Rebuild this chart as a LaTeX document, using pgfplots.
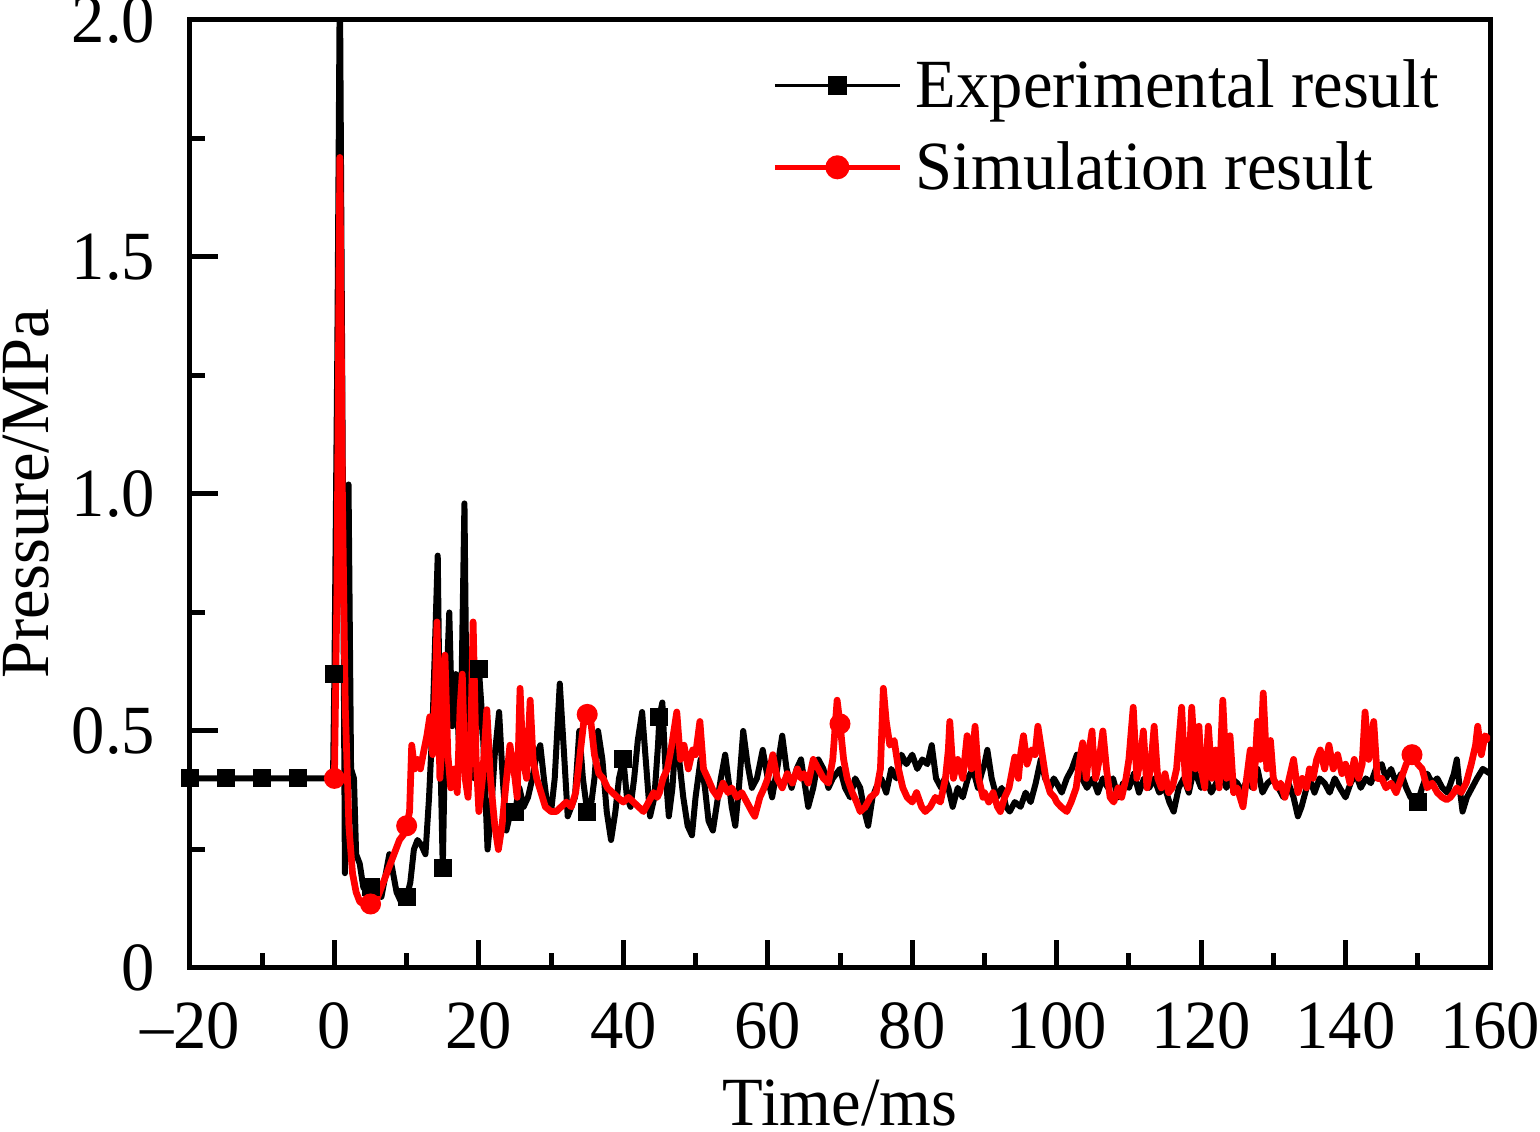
\documentclass[border=0pt]{standalone}
\usepackage{fontspec}
\setmainfont{Liberation Serif}[FakeStretch=0.965]
\usepackage{pgfplots}
\usepackage{pgfplotstable}
\pgfplotsset{compat=1.18}

\pgfplotstableread{
x y
-20 0.40
-15 0.40
-10 0.40
-5 0.40
-0.2 0.40
0 0.62
0.4 1.30
0.75 2.10
1.1 1.20
1.45 0.20
1.75 0.70
1.95 1.02
2.3 0.42
2.7 0.40
3.0 0.24
3.5 0.22
4.0 0.17
4.5 0.16
5.0 0.17
5.5 0.16
6.0 0.17
6.5 0.15
7.0 0.19
7.6 0.24
8.0 0.21
8.6 0.16
9.2 0.14
10.0 0.15
10.5 0.18
11.0 0.25
11.5 0.27
12.0 0.26
12.6 0.24
13.1 0.36
13.6 0.52
14.3 0.87
14.6 0.50
15.0 0.21
15.4 0.55
15.9 0.75
16.3 0.51
16.8 0.62
17.3 0.45
17.6 0.60
18.0 0.98
18.4 0.38
18.9 0.55
19.4 0.40
20.0 0.63
20.5 0.52
21.2 0.25
21.7 0.33
22.2 0.45
22.8 0.54
23.3 0.40
23.8 0.29
24.4 0.33
25.0 0.33
25.6 0.38
26.2 0.34
26.8 0.36
27.4 0.40
28.0 0.45
28.5 0.47
29.0 0.40
29.5 0.34
30.0 0.33
30.5 0.40
31.2 0.60
31.8 0.45
32.3 0.32
32.8 0.34
33.3 0.36
33.9 0.50
34.4 0.40
35.0 0.33
35.5 0.34
36.0 0.40
36.5 0.50
37.1 0.44
37.7 0.33
38.3 0.27
38.9 0.33
39.4 0.40
40.0 0.44
40.5 0.36
41.0 0.34
41.5 0.40
42.0 0.48
42.6 0.54
43.1 0.44
43.7 0.32
44.3 0.36
44.8 0.47
45.0 0.53
45.4 0.56
45.9 0.40
46.3 0.32
46.8 0.38
47.3 0.50
47.8 0.43
48.3 0.36
48.9 0.30
49.5 0.28
50.0 0.36
50.7 0.44
51.3 0.38
51.8 0.31
52.4 0.29
53.0 0.35
53.5 0.40
54.1 0.45
54.7 0.38
55.0 0.34
55.5 0.30
56.0 0.38
56.6 0.50
57.2 0.43
57.8 0.38
58.5 0.40
59.3 0.46
60.0 0.40
60.6 0.36
61.3 0.42
62.0 0.49
62.6 0.42
63.3 0.38
64.0 0.42
64.6 0.44
65.0 0.40
65.6 0.34
66.3 0.38
67.0 0.44
67.7 0.42
68.4 0.38
69.0 0.40
70.0 0.42
70.7 0.38
71.4 0.36
72.1 0.40
72.8 0.38
73.4 0.33
73.9 0.30
74.5 0.36
75.0 0.38
75.7 0.40
76.4 0.37
77.1 0.42
77.8 0.40
78.5 0.45
79.2 0.43
80.0 0.45
80.7 0.42
81.4 0.44
82.1 0.43
82.7 0.47
83.3 0.40
84.0 0.38
84.5 0.40
85.0 0.38
85.6 0.34
86.3 0.38
87.0 0.36
87.7 0.40
88.4 0.42
89.1 0.38
89.6 0.41
90.0 0.43
90.4 0.46
91.0 0.40
91.7 0.36
92.4 0.38
93.0 0.34
93.5 0.33
94.2 0.35
95.0 0.34
95.7 0.37
96.4 0.35
97.1 0.39
97.8 0.44
98.4 0.40
99.1 0.38
99.6 0.40
100.0 0.39
100.7 0.37
101.4 0.40
102.1 0.42
102.8 0.45
103.5 0.40
104.2 0.38
105.0 0.40
105.7 0.37
106.4 0.40
107.1 0.38
107.8 0.40
108.5 0.36
109.2 0.39
110.0 0.38
110.7 0.41
111.4 0.37
112.1 0.40
112.8 0.38
113.5 0.40
114.2 0.37
115.0 0.38
115.6 0.35
116.2 0.33
116.9 0.38
117.6 0.40
118.3 0.37
119.0 0.42
120.0 0.38
120.7 0.40
121.4 0.37
122.1 0.39
122.8 0.41
123.5 0.38
124.2 0.40
125.0 0.39
125.7 0.37
126.4 0.40
127.1 0.38
127.8 0.42
128.5 0.37
129.2 0.39
130.0 0.40
130.7 0.38
131.4 0.36
132.1 0.39
132.8 0.36
133.4 0.32
133.9 0.34
134.6 0.38
135.0 0.40
135.7 0.37
136.4 0.40
137.1 0.39
137.8 0.37
138.5 0.40
139.2 0.38
140.0 0.36
140.7 0.39
141.4 0.41
142.1 0.38
142.8 0.40
143.5 0.39
144.2 0.42
145.0 0.43
145.6 0.40
146.3 0.42
147.0 0.39
147.7 0.41
148.4 0.38
149.0 0.36
150.0 0.35
150.6 0.38
151.3 0.41
152.0 0.39
152.7 0.40
153.4 0.38
154.1 0.37
155.0 0.41
155.4 0.44
155.8 0.38
156.2 0.33
156.8 0.36
157.5 0.38
158.2 0.40
159.0 0.42
160.0 0.41
}\expdata

\pgfplotstableread{
x y
0 0.40
0.35 0.80
0.75 1.71
1.1 1.00
1.5 0.55
2.0 0.30
2.5 0.20
3.0 0.16
3.5 0.14
4.0 0.135
4.5 0.13
5.0 0.135
5.5 0.14
6.0 0.15
6.5 0.17
7.0 0.19
7.5 0.21
8.0 0.23
8.5 0.25
9.0 0.27
9.5 0.28
10.0 0.30
10.4 0.33
10.7 0.47
11.1 0.42
11.5 0.44
11.9 0.42
12.4 0.46
12.8 0.49
13.2 0.53
13.6 0.45
14.0 0.60
14.2 0.73
14.6 0.40
15.0 0.50
15.3 0.66
15.7 0.45
16.1 0.38
16.6 0.42
17.0 0.37
17.4 0.55
17.7 0.62
18.1 0.40
18.5 0.36
18.9 0.50
19.2 0.73
19.6 0.45
20.0 0.33
20.5 0.40
21.1 0.545
21.6 0.40
22.2 0.30
22.7 0.25
23.2 0.30
23.7 0.38
24.3 0.47
25.0 0.40
25.3 0.36
25.7 0.59
26.1 0.44
26.6 0.40
27.1 0.565
27.5 0.44
28.0 0.40
28.6 0.37
29.2 0.34
30.0 0.33
30.7 0.33
31.4 0.34
32.1 0.35
32.8 0.34
33.4 0.37
34.0 0.45
34.6 0.53
35.0 0.535
35.5 0.52
36.0 0.45
36.6 0.41
37.2 0.40
37.8 0.38
38.5 0.37
39.2 0.36
40.0 0.35
40.7 0.36
41.4 0.35
42.1 0.34
42.8 0.33
43.5 0.35
44.2 0.37
44.7 0.36
45.0 0.37
45.5 0.40
46.1 0.42
46.7 0.47
47.4 0.54
47.9 0.44
48.4 0.47
49.0 0.42
49.6 0.46
50.0 0.45
50.6 0.52
51.1 0.42
51.7 0.40
52.4 0.375
53.1 0.36
53.8 0.39
54.5 0.37
55.0 0.38
55.7 0.36
56.4 0.37
57.1 0.35
57.8 0.33
58.2 0.32
58.9 0.36
59.5 0.38
60.0 0.40
60.7 0.45
61.3 0.40
62.0 0.38
62.7 0.41
63.4 0.39
64.1 0.42
64.6 0.40
65.0 0.41
65.6 0.39
66.3 0.44
67.0 0.42
67.7 0.40
68.4 0.39
69.0 0.44
69.6 0.565
70.0 0.515
70.5 0.44
71.0 0.40
71.7 0.37
72.3 0.35
72.8 0.33
73.5 0.34
74.2 0.36
75.0 0.37
75.6 0.42
76.0 0.59
76.4 0.52
76.9 0.47
77.5 0.48
78.1 0.42
78.7 0.38
79.3 0.36
80.0 0.35
80.6 0.37
81.3 0.34
81.8 0.33
82.5 0.34
83.2 0.36
83.9 0.35
84.6 0.40
85.0 0.46
85.2 0.52
85.7 0.40
86.3 0.44
87.0 0.40
87.6 0.49
88.2 0.42
88.7 0.51
89.2 0.40
89.8 0.36
90.0 0.37
90.6 0.35
91.2 0.37
91.8 0.34
92.2 0.33
92.8 0.36
93.4 0.38
94.2 0.445
94.7 0.40
95.0 0.45
95.4 0.49
95.9 0.43
96.5 0.46
97.0 0.45
97.4 0.51
97.9 0.46
98.5 0.40
99.1 0.37
99.7 0.36
100.0 0.35
100.6 0.34
101.4 0.33
102.0 0.35
102.7 0.38
103.2 0.44
103.6 0.475
104.1 0.40
104.5 0.46
104.9 0.50
105.0 0.47
105.4 0.40
105.9 0.44
106.4 0.50
106.9 0.42
107.4 0.36
107.9 0.35
108.5 0.38
109.0 0.36
109.6 0.40
110.0 0.44
110.6 0.55
111.1 0.40
111.6 0.44
112.0 0.50
112.5 0.38
113.0 0.42
113.5 0.51
114.0 0.40
114.5 0.38
115.0 0.41
115.5 0.37
116.0 0.38
116.6 0.42
117.3 0.55
117.8 0.40
118.2 0.38
118.7 0.55
119.2 0.42
119.7 0.51
120.0 0.42
120.5 0.38
121.0 0.51
121.5 0.40
122.0 0.46
122.5 0.38
123.0 0.565
123.5 0.40
124.0 0.49
124.5 0.37
125.0 0.38
125.4 0.36
125.8 0.34
126.3 0.40
126.8 0.46
127.3 0.38
127.8 0.52
128.2 0.44
128.6 0.58
129.1 0.42
129.6 0.48
130.0 0.40
130.5 0.38
131.0 0.39
131.6 0.36
132.2 0.40
132.8 0.44
133.4 0.37
134.0 0.40
134.6 0.38
135.0 0.42
135.5 0.40
136.0 0.44
136.5 0.46
137.1 0.42
137.7 0.47
138.3 0.42
138.9 0.45
139.5 0.41
140.0 0.43
140.6 0.39
141.2 0.44
141.8 0.40
142.3 0.43
142.7 0.54
143.2 0.44
143.9 0.52
144.4 0.40
145.0 0.40
145.6 0.38
146.3 0.39
147.0 0.37
147.7 0.40
148.4 0.43
149.2 0.45
150.0 0.43
150.6 0.42
151.3 0.38
152.0 0.39
152.7 0.37
153.4 0.36
154.0 0.355
154.5 0.36
155.0 0.37
155.4 0.38
156.0 0.37
156.7 0.39
157.4 0.43
158.0 0.47
158.3 0.51
158.8 0.45
159.3 0.49
160.0 0.48
}\simdata

\pgfplotstableread{
x y
-20 0.40
-15 0.40
-10 0.40
-5 0.40
0 0.62
5 0.17
10 0.15
15 0.21
20 0.63
25 0.33
35 0.33
40 0.44
45 0.53
150 0.35
}\expmarks

\pgfplotstableread{
x y
0 0.40
5 0.135
10 0.30
35 0.535
70 0.515
149.2 0.45
}\simmarks

\begin{document}
\fontsize{13.8pt}{16.5pt}\selectfont
\begin{tikzpicture}
\begin{axis}[
  at={(0pt,0pt)}, anchor=south west,
  scale only axis, width=260pt, height=189.6pt,
  xmin=-20, xmax=160, ymin=0, ymax=2,
  axis line style={line width=1pt},
  tick pos=left, tick align=inside,
  major tick length=5.5pt, minor tick length=3pt,
  every tick/.style={black, line width=1pt},
  xtick={-20,0,20,40,60,80,100,120,140,160},
  xticklabels={\textendash20,0,20,40,60,80,100,120,140,160},
  minor x tick num=1,
  ytick={0,0.5,1,1.5,2},
  yticklabels={0,0.5,1.0,1.5,2.0},
  minor y tick num=1,
  xticklabel style={inner sep=0pt, yshift=-6.8pt},
  yticklabel style={inner sep=0pt, xshift=-6.8pt},
  xlabel={Time/ms}, ylabel={Pressure/MPa},
  xlabel style={at={(axis description cs:0.5,-0.1665)}, anchor=base, inner sep=0pt},
  ylabel style={at={(axis description cs:-0.126,0.5)}, anchor=center, inner sep=0pt},
  legend style={at={(axis description cs:0.448,0.968)}, anchor=north west,
    draw=none, fill=none, inner sep=0pt, outer sep=0pt,
    nodes={inner sep=1.9pt, text height=9.6pt, text depth=3pt},
    column sep=0.8pt},
  legend cell align=left,
  legend image code/.code={%
    \draw[#1, mark repeat=2, mark phase=2] plot coordinates {(0pt,1.2pt) (12.5pt,1.2pt) (25pt,1.2pt)};},
]
\addplot[black, line width=1.2pt, line join=round, forget plot] table {\expdata};
\addplot[black, only marks, mark=square*, mark size=1.6pt, forget plot] table {\expmarks};
\addplot[red, line width=1.35pt, line join=round, forget plot] table {\simdata};
\addplot[red, only marks, mark=*, mark size=1.9pt, forget plot] table {\simmarks};
\addlegendimage{black, line width=0.7pt, mark=square*, mark size=1.6pt}
\addlegendentry{Experimental result}
\addlegendimage{red, line width=1pt, mark=*, mark size=1.9pt}
\addlegendentry{Simulation result}
\end{axis}
\pgfresetboundingbox
\useasboundingbox (-38pt,-32.8pt) rectangle (270pt,193.6pt);
\end{tikzpicture}
\end{document}
